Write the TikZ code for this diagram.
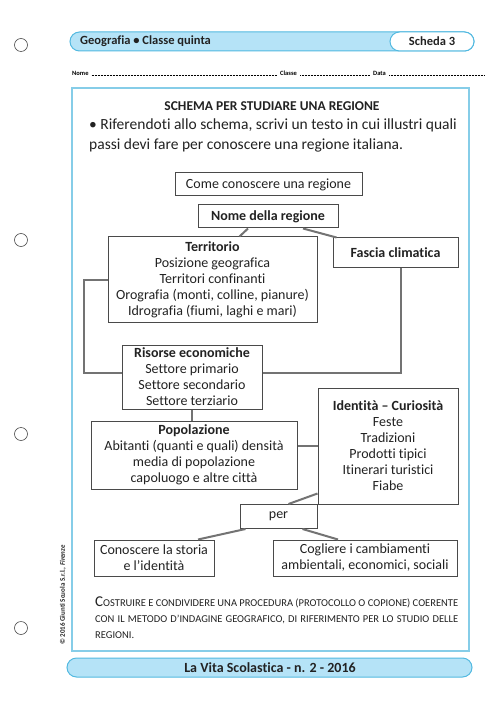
\documentclass[tikz,border=0pt]{standalone}
\usepackage{fontspec}
\setmainfont{Carlito}[Ligatures=NoCommon]
\definecolor{headblue}{HTML}{B5E3F7}
\definecolor{lineblue}{HTML}{52B9E0}
\definecolor{frameblue}{HTML}{86CDE8}
\definecolor{boxgray}{HTML}{4A4A4A}
\definecolor{linkgray}{HTML}{737373}
\definecolor{inkgray}{HTML}{222222}
\newcommand{\boxfont}{\fontsize{14}{16}\selectfont}

\begin{document}
\begin{tikzpicture}[x=1pt, y=-1pt,
    box/.style={draw=boxgray, line width=1pt, fill=white, inner sep=0pt, align=center, font=\boxfont, text=inkgray},
    link/.style={draw=linkgray, line width=2pt},
    hole/.style={draw=black!70, line width=0.6pt}]
    \useasboundingbox (0,0) rectangle (500,708);

    % punched holes
    \foreach \hy in {45,240,434,628}
        \draw[hole] (21,\hy) circle (6.5pt);

    % header
    \draw[lineblue, fill=headblue, line width=1pt, rounded corners=9.5pt] (70,32) rectangle (474,51);
    \draw[lineblue, fill=white, line width=1pt, rounded corners=9.5pt] (390,32) rectangle (474,51);
    \node[anchor=west, inner sep=0, font=\bfseries\fontsize{12.5}{15}\selectfont, text=inkgray] (subject) at (80,41.5) {Geografia • Classe quinta};
    \node[inner sep=0, font=\bfseries\fontsize{12.5}{15}\selectfont, text=inkgray] (sheet) at (432,41.5) {Scheda 3};

    % name line
    \node[anchor=west, inner sep=0, font=\bfseries\fontsize{6.5}{8}\selectfont] (nome) at (72,73) {Nome};
    \node[anchor=west, inner sep=0, font=\bfseries\fontsize{6.5}{8}\selectfont] (classe) at (280,73) {Classe};
    \node[anchor=west, inner sep=0, font=\bfseries\fontsize{6.5}{8}\selectfont] (data) at (373,73) {Data};
    \draw[dash pattern=on 0.5pt off 1pt, line width=0.5pt] ([xshift=3pt]nome.base east) -- ([xshift=-3pt]nome.base east -| classe.west);
    \draw[dash pattern=on 0.5pt off 1pt, line width=0.5pt] ([xshift=3pt]classe.base east) -- ([xshift=-3pt]classe.base east -| data.west);
    \draw[dash pattern=on 0.5pt off 1pt, line width=0.5pt] ([xshift=3pt]data.base east) -- ++(95,0);

    % frame
    \draw[frameblue, line width=1.3pt, fill=white] (72,88) rectangle (469,651);

    \node[inner sep=0, font=\bfseries\fontsize{13.5}{16}\selectfont, text=inkgray] (title) at (272,106) {SCHEMA PER STUDIARE UNA REGIONE};
    \node[anchor=north west, inner sep=0, align=left, font=\fontsize{15.5}{20}\selectfont, text=inkgray] (task) at (89,119)
        {• Riferendoti allo schema, scrivi un testo in cui illustri quali\\passi devi fare per conoscere una regione italiana.};

    % scheme
    \node[box, minimum width=187pt, minimum height=23pt] (come) at (268.5,184.5) {Come conoscere una regione};
    \node[box, minimum width=140pt, minimum height=23pt, font=\boxfont\bfseries] (regione) at (268,216.5) {Nome della regione};
    \node[box, minimum width=209pt, minimum height=85pt] (terr) at (212.5,279.5)
        {\textbf{Territorio}\\Posizione geografica\\Territori confinanti\\Orografia (monti, colline, pianure)\\Idrografia (fiumi, laghi e mari)};
    \node[box, minimum width=125pt, minimum height=29pt, font=\boxfont\bfseries] (fascia) at (395.5,252.5) {Fascia climatica};
    \node[box, minimum width=140pt, minimum height=64pt] (risorse) at (192,377)
        {\textbf{Risorse economiche}\\Settore primario\\Settore secondario\\Settore terziario};
    \node[box, minimum width=206pt, minimum height=68pt] (popol) at (194,455)
        {\textbf{Popolazione}\\Abitanti (quanti e quali) densità\\media di popolazione\\capoluogo e altre città};
    \node[box, minimum width=140pt, minimum height=116pt] (ident) at (388,446)
        {\textbf{Identità – Curiosità}\\Feste\\Tradizioni\\Prodotti tipici\\Itinerari turistici\\Fiabe};
    \node[box, minimum width=77pt, minimum height=24pt] (per) at (278.5,516.5) {per};
    \node[box, minimum width=120pt, minimum height=36pt] (storia) at (154,558) {Conoscere la storia\\e l’identità};
    \node[box, minimum width=184pt, minimum height=36pt] (cambi) at (365,558) {Cogliere i cambiamenti\\ambientali, economici, sociali};

    % connectors
    \draw[link] ([xshift=-20pt]regione.south) -- ([xshift=27pt]terr.north);
    \draw[link] ([xshift=35pt]regione.south) -- ([xshift=4pt]fascia.north west);
    \draw[link] (terr.west) -- ++(-24,0) |- ([yshift=4pt]risorse.west);
    \draw[link] ([xshift=5pt]fascia.south) |- ([yshift=4pt]risorse.east);
    \draw[link] (risorse.south) -- (risorse.south |- popol.north);
    \draw[link] (ident.west) -- (ident.west -| popol.east);
    \draw[link] ([yshift=11pt]ident.south west) -- ([xshift=10pt]per.north);
    \draw[link] ([xshift=-33pt]per.south) -- ([xshift=44pt]storia.north);
    \draw[link] ([xshift=24pt]per.south) -- ([xshift=-27pt]cambi.north);

    % closing note
    \node[anchor=base west, inner sep=0, text width=363pt, align=justify, font=\fontsize{10.5}{16}\selectfont, text=inkgray] (note) at (95,606)
        {{\fontsize{15}{16}\selectfont C}OSTRUIRE E CONDIVIDERE UNA PROCEDURA (PROTOCOLLO O COPIONE) COERENTE\linebreak
         CON IL METODO D’INDAGINE GEOGRAFICO, DI RIFERIMENTO PER LO STUDIO DELLE\linebreak REGIONI.};

    % copyright
    \node[anchor=west, rotate=90, inner sep=0, font=\bfseries\fontsize{7}{8}\selectfont, text=inkgray] (copy) at (63,645)
        {© 2016 Giunti Scuola S.r.l., \textit{Firenze}};

    % footer
    \draw[lineblue, fill=headblue, line width=1pt, rounded corners=9.5pt] (67,658) rectangle (472,677);
    \node[inner sep=0, font=\bfseries\fontsize{14}{16}\selectfont, text=inkgray] (issue) at (270,668) {La Vita Scolastica - n. 2 - 2016};
\end{tikzpicture}
\end{document}
